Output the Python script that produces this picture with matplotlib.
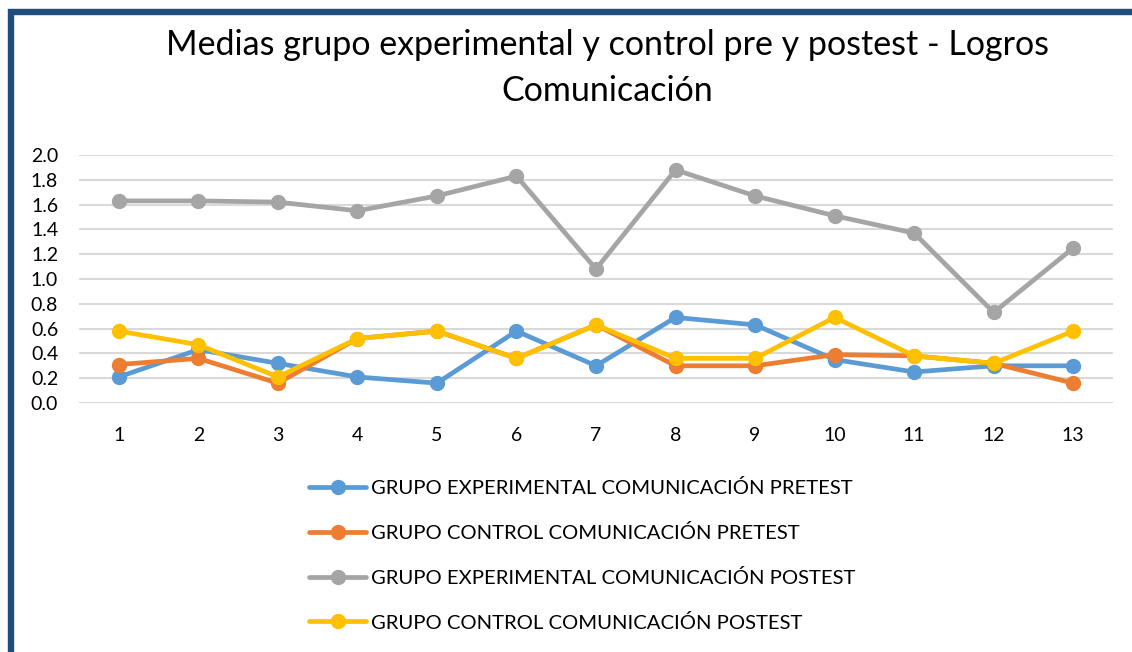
import matplotlib
matplotlib.use("Agg")
import matplotlib.pyplot as plt
from matplotlib.patches import Rectangle

plt.rcParams['font.family'] = ['Lato', 'DejaVu Sans']

categories = ['1', '2', '3', '4', '5', '6', '7', '8', '9', '10', '11', '12', '13']
exp_pre = [0.21, 0.43, 0.32, 0.21, 0.16, 0.58, 0.30, 0.69, 0.63, 0.35, 0.25, 0.30, 0.30]
ctrl_pre = [0.31, 0.36, 0.16, 0.52, 0.58, 0.36, 0.63, 0.30, 0.30, 0.39, 0.38, 0.32, 0.16]
exp_post = [1.63, 1.63, 1.62, 1.55, 1.67, 1.83, 1.08, 1.88, 1.67, 1.51, 1.37, 0.73, 1.25]
ctrl_post = [0.58, 0.47, 0.21, 0.52, 0.58, 0.36, 0.63, 0.36, 0.36, 0.69, 0.38, 0.32, 0.58]
labels = ['GRUPO EXPERIMENTAL COMUNICACIÓN PRETEST',
          'GRUPO CONTROL COMUNICACIÓN PRETEST',
          'GRUPO EXPERIMENTAL COMUNICACIÓN POSTEST',
          'GRUPO CONTROL COMUNICACIÓN POSTEST']
colors = ['#5B9BD5', '#ED7D31', '#A5A5A5', '#FFC000']
yticks = [0.0, 0.2, 0.4, 0.6, 0.8, 1.0, 1.2, 1.4, 1.6, 1.8, 2.0]
title = 'Medias grupo experimental y control pre y postest - Logros\nComunicación'

W, H = 1132, 652
fig = plt.figure(figsize=(W / 100, H / 100), dpi=100)

# dark blue frame (left and top visible)
fig.patches.append(Rectangle((10.5 / W, -0.2), 1.5, 1.2 - 11.5 / H,
                             transform=fig.transFigure, fill=False,
                             edgecolor='#1F4E79', linewidth=4.6, zorder=0))

ax = fig.add_axes([79 / W, 1 - 403 / H, (1113 - 79) / W, (403 - 155) / H])
x = list(range(len(categories)))
handles = []
for vals, c, lab in zip([exp_pre, ctrl_pre, exp_post, ctrl_post], colors, labels):
    ln, = ax.plot(x, vals, color=c, lw=3.4, marker='o', markersize=10,
                  solid_capstyle='round', label=lab, clip_on=False, zorder=3)
    handles.append(ln)

ax.set_xlim(-0.5, len(categories) - 0.5)
ax.set_ylim(0, 2.0)
ax.set_yticks(yticks)
ax.set_yticklabels([f'{v:.1f}' for v in yticks])
ax.set_xticks(x)
ax.set_xticklabels(categories)
ax.grid(axis='y', color='#D9D9D9', lw=1.5, zorder=0)
ax.set_axisbelow(True)
for s in ax.spines.values():
    s.set_visible(False)
ax.tick_params(axis='both', length=0, labelsize=14, colors='black')
ax.tick_params(axis='y', pad=15)
ax.tick_params(axis='x', pad=17)

fig.text(607 / W, 1 - 68 / H, title, ha='center', va='center', fontsize=24.5,
         linespacing=1.55)

leg = fig.legend(handles=handles, labels=labels, loc='upper left',
                 bbox_to_anchor=(291 / W, 1 - 461 / H), frameon=False,
                 fontsize=14.6, handlelength=2.8, handletextpad=0.25,
                 labelspacing=1.32)

fig.savefig('out.png', dpi=100, facecolor='white')
